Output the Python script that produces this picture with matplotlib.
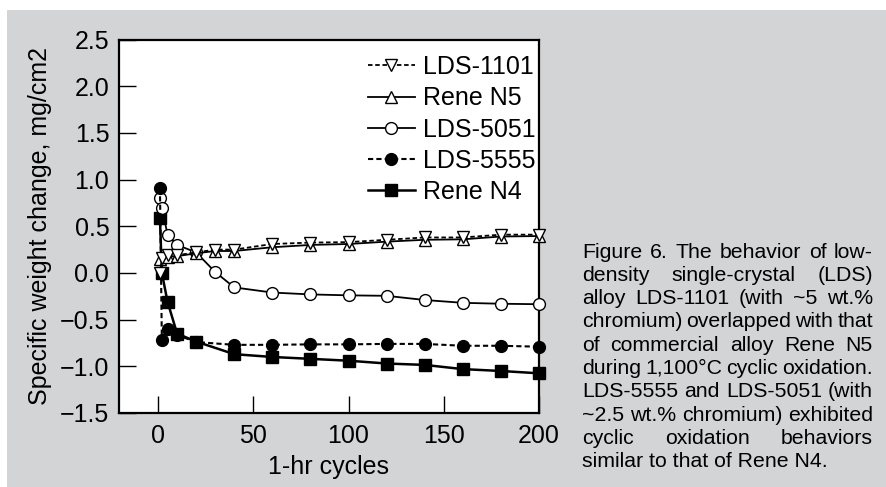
import matplotlib
matplotlib.use("Agg")
import matplotlib.pyplot as plt
from matplotlib.patches import Rectangle

plt.rcParams['font.family'] = ['Liberation Sans', 'DejaVu Sans']

# data
x_1101 = [1, 2, 5, 10, 20, 30, 40, 60, 80, 100, 120, 140, 160, 180, 200]
y_1101 = [0.0, 0.157, 0.19, 0.19, 0.22, 0.25, 0.25, 0.31, 0.325, 0.33, 0.355, 0.38, 0.38, 0.41, 0.41]

x_n5 = [1, 5, 10, 20, 30, 40, 60, 80, 100, 120, 140, 160, 180, 200]
y_n5 = [0.15, 0.175, 0.18, 0.21, 0.235, 0.235, 0.275, 0.30, 0.31, 0.335, 0.355, 0.36, 0.39, 0.395]

x_5051 = [1, 2, 5, 10, 20, 30, 40, 60, 80, 100, 120, 140, 160, 180, 200]
y_5051 = [0.80, 0.70, 0.41, 0.30, 0.22, 0.01, -0.155, -0.21, -0.23, -0.24, -0.245, -0.29, -0.32, -0.33, -0.335]

x_5555 = [1, 2, 5, 10, 20, 40, 60, 80, 100, 120, 140, 160, 180, 200]
y_5555 = [0.91, -0.72, -0.60, -0.665, -0.74, -0.77, -0.77, -0.765, -0.765, -0.76, -0.76, -0.78, -0.78, -0.79]

x_n4 = [1, 2, 5, 10, 20, 40, 60, 80, 100, 120, 140, 160, 180, 200]
y_n4 = [0.585, 0.0, -0.31, -0.65, -0.735, -0.87, -0.90, -0.92, -0.94, -0.97, -0.985, -1.03, -1.05, -1.075]

x_ticks = [0, 50, 100, 150, 200]
y_ticks = [-1.5, -1.0, -0.5, 0.0, 0.5, 1.0, 1.5, 2.0, 2.5]

caption = [
    "Figure 6. The behavior of low-",
    "density single-crystal (LDS)",
    "alloy LDS-1101 (with ~5 wt.%",
    "chromium) overlapped with that",
    "of commercial alloy Rene N5",
    "during 1,100°C cyclic oxidation.",
    "LDS-5555 and LDS-5051 (with",
    "~2.5 wt.% chromium) exhibited",
    "cyclic oxidation behaviors",
    "similar to that of Rene N4.",
]

W, H = 887, 487
fig = plt.figure(figsize=(W / 100, H / 100), dpi=100, facecolor='white')
fig.patches.append(Rectangle((7 / W, 0), 1, 1 - 10 / H, transform=fig.transFigure,
                             facecolor='#d3d4d6', edgecolor='none', zorder=-10))

ax = fig.add_axes([119 / W, 1 - 413 / H, 420 / W, 373.5 / H])
ax.set_facecolor('white')

ms = 8.5
ax.plot(x_1101, y_1101, ls=(0, (2.5, 1.5)), color='black', lw=1.3, marker='v',
        mfc='white', mec='black', ms=ms, mew=1.0, label='LDS-1101', clip_on=False, zorder=5)
ax.plot(x_n5, y_n5, ls='-', color='black', lw=1.3, marker='^',
        mfc='white', mec='black', ms=ms, mew=1.0, label='Rene N5', clip_on=False, zorder=4)
ax.plot(x_5051, y_5051, ls='-', color='black', lw=1.3, marker='o',
        mfc='white', mec='black', ms=ms, mew=1.0, label='LDS-5051', clip_on=False, zorder=3)
ax.plot(x_5555, y_5555, ls=(0, (2.5, 1.5)), color='black', lw=1.5, marker='o',
        mfc='black', mec='black', ms=ms, mew=1.0, label='LDS-5555', clip_on=False, zorder=3)
ax.plot(x_n4, y_n4, ls='-', color='black', lw=1.8, marker='s',
        mfc='black', mec='black', ms=ms - 0.5, mew=1.0, label='Rene N4', clip_on=False, zorder=2)

ax.set_xlim(-20.5, 200)
ax.set_ylim(-1.5, 2.5)
ax.set_xticks(x_ticks)
ax.set_yticks(y_ticks)
ax.set_yticklabels([f"{v:.1f}".replace('-', '\u2212') for v in y_ticks])

for s in ax.spines.values():
    s.set_linewidth(1.6)
ax.tick_params(direction='in', length=12, width=1.0, labelsize=18, colors='black')
ax.tick_params(axis='y', pad=7)
ax.tick_params(axis='x', pad=8)
ax.set_xlabel('1-hr cycles', fontsize=18, labelpad=5)
ax.set_ylabel('Specific weight change, mg/cm2', fontsize=18, labelpad=6)

leg = ax.legend(loc='upper right', fontsize=18, frameon=False, handlelength=1.9,
                handletextpad=0.3, labelspacing=0.29, borderaxespad=0.0,
                bbox_to_anchor=(1.015, 0.985))

# justified caption
fig.canvas.draw()
renderer = fig.canvas.get_renderer()
x0, x1 = 582, 873
y_first, step = 252, 23.3
for i, line in enumerate(caption):
    ypix = H - (y_first + i * step)
    words = line.split(' ')
    if i == len(caption) - 1:
        fig.text(x0 / W, ypix / H, line, fontsize=15.3, va='center', ha='left')
        continue
    objs = [fig.text(0, ypix / H, w, fontsize=15.3, va='center', ha='left') for w in words]
    widths = [o.get_window_extent(renderer).width for o in objs]
    gap = (x1 - x0 - sum(widths)) / (len(words) - 1)
    xp = x0
    for o, w in zip(objs, widths):
        o.set_x(xp / W)
        xp += w + gap

fig.savefig('out.png', dpi=100)
